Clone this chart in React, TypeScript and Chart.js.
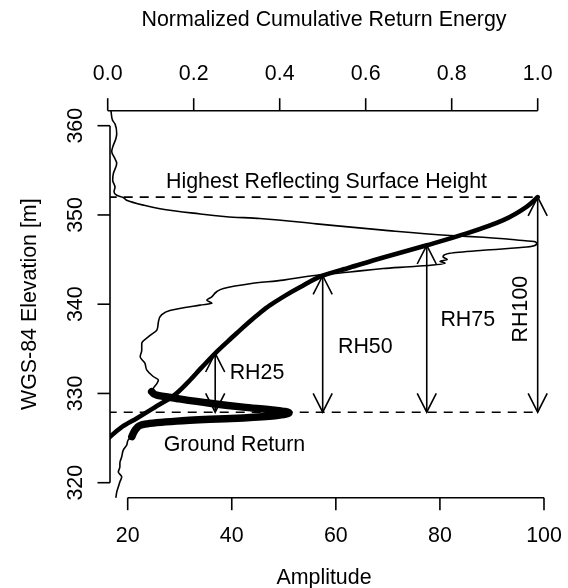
import { useEffect, useRef } from "react";
import { Chart, registerables } from "chart.js";

Chart.register(...registerables);

const FONT = '"Liberation Sans", Arial, Helvetica, sans-serif';
const FONT_SIZE = 21.4;

// Return waveform, listed from the top of the window downwards
const waveAmplitude = [
  16.7, 16.8, 17.1, 17.56, 17.89, 17.75, 17.12, 16.93, 17.56, 17.89, 17.23, 17.12, 17.56, 17.37, 17.89,
  19.15, 19.8, 23.0, 26.2, 32.6, 39.0, 45.4, 56.3, 69.1, 81.9, 88.3, 94.75, 98.3, 98.6, 96.7, 88.3,
  81.9, 80.6, 81.4, 80.0, 81.0, 75.5, 69.1, 62.7, 56.3, 49.9, 43.5, 38.4, 37.1, 36.1, 35.2, 36.2,
  33.9, 28.1, 26.5, 25.9, 25.6, 24.3, 22.7, 22.7, 22.4, 23.3, 23.65, 24.9, 25.9, 25.6, 24.9, 24.6,
  25.6, 29.4, 35.8, 42.2, 48.3, 51.0, 48.3, 42.2, 35.8, 29.4, 23.3, 21.7, 21.2, 20.8, 20.1, 19.8,
  19.15, 18.85, 18.5, 18.5, 18.2, 18.85, 18.5, 18.2, 17.9, 17.75, 17.6,
];
const waveElevation = [
  362.0, 361.6, 360.6, 360.2, 359.1, 358.6, 357.6, 357.1, 356.3, 355.8, 354.6, 353.9, 353.1, 352.6, 352.2,
  351.95, 351.65, 351.1, 350.7, 350.2, 349.8, 349.6, 349.0, 348.3, 347.7, 347.5, 347.2, 347.0, 346.8, 346.4, 346.05,
  345.7, 345.3, 345.0, 344.8, 344.6, 344.25, 344.0, 343.6, 343.25, 342.7, 342.3, 341.76, 341.4, 340.8, 340.45, 340.1,
  339.9, 339.3, 338.8, 338.0, 337.1, 336.5, 335.6, 334.85, 334.1, 333.4, 332.65, 331.9, 331.5, 331.1, 330.56, 330.2,
  329.8, 329.44, 328.9, 328.47, 328.13, 327.85, 327.5, 327.26, 327.1, 326.9, 326.56, 326.08, 325.67, 325.16, 324.8, 324.2,
  323.65, 322.9, 322.2, 321.8, 321.2, 320.66, 320.1, 319.54, 318.98, 318.4, 318.0,
];

// Elevation band of the ground return, drawn heavier
const groundBandLow = 325.1;
const groundBandHigh = 330.25;

// Normalized cumulative return energy, from the bottom upwards
const cumEnergy = [
  0, 0.031, 0.068, 0.11, 0.152, 0.187, 0.217, 0.25, 0.28, 0.308, 0.331, 0.354, 0.377, 0.408, 0.447,
  0.5, 0.5635, 0.641, 0.742, 0.835, 0.92, 0.974, 1.0,
];
const cumElevation = [
  324.9, 326.18, 327.23, 328.46, 329.7, 331.27, 332.83, 334.5, 335.86, 337.09, 338.1, 339.02, 339.86, 340.82, 341.89,
  343.2, 344.12, 345.24, 346.6, 347.93, 349.42, 350.91, 352.0,
];

// Relative heights
const rhNames = ["RH25", "RH50", "RH75", "RH100"];
const rhEnergy = [0.25, 0.5, 0.742, 1.0];
const rhTop = [334.5, 343.2, 346.6, 352.0];
const groundElevation = 327.9;
const highestElevation = 352.0;

// Axis ticks
const amplitudeTicks = [20, 40, 60, 80, 100];
const energyTicks = [0, 0.2, 0.4, 0.6, 0.8, 1.0];
const energyTickLabels = ["0.0", "0.2", "0.4", "0.6", "0.8", "1.0"];
const elevationTicks = [320, 330, 340, 350, 360];

// Text annotations, anchored in (amplitude, elevation)
const notes = [
  { text: "Highest Reflecting Surface Height", amp: 58.2, elev: 353.71, rotate: false },
  { text: "Ground Return", amp: 40.52, elev: 324.21, rotate: false },
  { text: rhNames[0], amp: 44.85, elev: 332.24, rotate: false },
  { text: rhNames[1], amp: 65.66, elev: 335.24, rotate: false },
  { text: rhNames[2], amp: 85.35, elev: 338.21, rotate: false },
  { text: rhNames[3], amp: 95.67, elev: 339.45, rotate: true },
];

const THIN = 1.6;

const pts = (xs: number[], ys: number[]) => xs.map((x, i) => ({ x, y: ys[i] }));

const rStylePlugin = {
  id: "rStyle",
  afterDraw(chart: any) {
    const { ctx, chartArea, scales } = chart;
    const xa = scales.x;
    const xe = scales.x2;
    const ya = scales.y;
    ctx.save();
    ctx.strokeStyle = "#000";
    ctx.fillStyle = "#000";
    ctx.lineWidth = THIN;
    ctx.lineCap = "butt";
    ctx.font = `${FONT_SIZE}px ${FONT}`;
    const tick = 12.5;

    const line = (x0: number, y0: number, x1: number, y1: number) => {
      ctx.beginPath();
      ctx.moveTo(x0, y0);
      ctx.lineTo(x1, y1);
      ctx.stroke();
    };
    const text = (s: string, x: number, y: number, rot = false) => {
      ctx.save();
      ctx.translate(x, y);
      if (rot) ctx.rotate(-Math.PI / 2);
      ctx.textAlign = "center";
      ctx.textBaseline = "middle";
      ctx.fillText(s, 0, 0);
      ctx.restore();
    };

    // bottom axis: amplitude
    const by = chartArea.bottom;
    line(xa.getPixelForValue(amplitudeTicks[0]), by, xa.getPixelForValue(amplitudeTicks[amplitudeTicks.length - 1]), by);
    amplitudeTicks.forEach((v) => {
      const px = xa.getPixelForValue(v);
      line(px, by, px, by + tick);
      text(String(v), px, by + 38.5);
    });
    text("Amplitude", (chartArea.left + chartArea.right) / 2 - 5, by + 80);

    // top axis: cumulative energy
    const ty = chartArea.top;
    line(xe.getPixelForValue(energyTicks[0]), ty, xe.getPixelForValue(energyTicks[energyTicks.length - 1]), ty);
    energyTicks.forEach((v, i) => {
      const px = xe.getPixelForValue(v);
      line(px, ty, px, ty - tick);
      text(energyTickLabels[i], px, ty - 37);
    });
    text("Normalized Cumulative Return Energy", (chartArea.left + chartArea.right) / 2 - 5, ty - 90.5);

    // left axis: elevation
    const lx = chartArea.left;
    line(lx, ya.getPixelForValue(elevationTicks[0]), lx, ya.getPixelForValue(elevationTicks[elevationTicks.length - 1]));
    elevationTicks.forEach((v) => {
      const py = ya.getPixelForValue(v);
      line(lx, py, lx - tick, py);
      text(String(v), lx - 34, py, true);
    });
    text("WGS-84 Elevation [m]", lx - 80, (chartArea.top + chartArea.bottom) / 2, true);

    // double-headed arrows from the ground to each relative height
    const gy = ya.getPixelForValue(groundElevation);
    const len = 21;
    const ang = (27 * Math.PI) / 180;
    const dx = len * Math.sin(ang);
    const dy = len * Math.cos(ang);
    rhEnergy.forEach((e, i) => {
      const px = xe.getPixelForValue(e);
      const top = ya.getPixelForValue(rhTop[i]);
      line(px, top, px, gy);
      ctx.beginPath();
      ctx.moveTo(px - dx, top + dy);
      ctx.lineTo(px, top);
      ctx.lineTo(px + dx, top + dy);
      ctx.moveTo(px - dx, gy - dy);
      ctx.lineTo(px, gy);
      ctx.lineTo(px + dx, gy - dy);
      ctx.stroke();
    });

    // annotations
    notes.forEach((n) => {
      text(n.text, xa.getPixelForValue(n.amp), ya.getPixelForValue(n.elev), n.rotate);
    });
    ctx.restore();
  },
};

export default function App() {
  const canvasRef = useRef<HTMLCanvasElement | null>(null);

  useEffect(() => {
    const canvas = canvasRef.current;
    if (!canvas) return;

    const wave = pts(waveAmplitude, waveElevation);
    const ground = wave.filter((p) => p.y >= groundBandLow && p.y <= groundBandHigh);
    const cumulative = pts(cumEnergy, cumElevation);

    const chart = new Chart(canvas, {
      type: "line",
      data: {
        datasets: [
          {
            label: "waveform",
            data: wave,
            xAxisID: "x",
            yAxisID: "y",
            borderColor: "#000",
            borderWidth: THIN,
            pointRadius: 0,
            cubicInterpolationMode: "monotone",
            borderJoinStyle: "round",
          },
          {
            label: "ground return",
            data: ground,
            xAxisID: "x",
            yAxisID: "y",
            borderColor: "#000",
            borderWidth: 7.5,
            pointRadius: 0,
            cubicInterpolationMode: "monotone",
            borderCapStyle: "round",
            borderJoinStyle: "round",
          },
          {
            label: "cumulative energy",
            data: cumulative,
            xAxisID: "x2",
            yAxisID: "y",
            borderColor: "#000",
            borderWidth: 4.6,
            pointRadius: 0,
            cubicInterpolationMode: "monotone",
            borderCapStyle: "round",
            borderJoinStyle: "round",
          },
          {
            label: "highest surface",
            data: [
              { x: 0, y: highestElevation },
              { x: 1, y: highestElevation },
            ],
            xAxisID: "x2",
            yAxisID: "y",
            borderColor: "#000",
            borderWidth: THIN,
            borderDash: [9, 7],
            pointRadius: 0,
            tension: 0,
          },
          {
            label: "ground",
            data: [
              { x: 0, y: groundElevation },
              { x: 1, y: groundElevation },
            ],
            xAxisID: "x2",
            yAxisID: "y",
            borderColor: "#000",
            borderWidth: THIN,
            borderDash: [9, 7],
            pointRadius: 0,
            tension: 0,
          },
        ],
      },
      options: {
        indexAxis: "y",
        responsive: false,
        animation: false,
        events: [],
        layout: { padding: { left: 110, top: 110.7, right: 20, bottom: 90.3 } },
        plugins: { legend: { display: false }, tooltip: { enabled: false } },
        scales: {
          x: { type: "linear", position: "bottom", min: 16.6, max: 100.77, display: false },
          x2: { type: "linear", position: "top", min: 0.00535, max: 1.024, display: false },
          y: { type: "linear", position: "left", min: 318.32, max: 361.68, display: false },
        },
      },
      plugins: [rStylePlugin],
    });

    return () => chart.destroy();
  }, []);

  return (
    <div style={{ position: "fixed", left: 0, top: 0, width: 568, height: 588, background: "#fff" }}>
      <canvas ref={canvasRef} width={568} height={588} style={{ display: "block" }} />
    </div>
  );
}
